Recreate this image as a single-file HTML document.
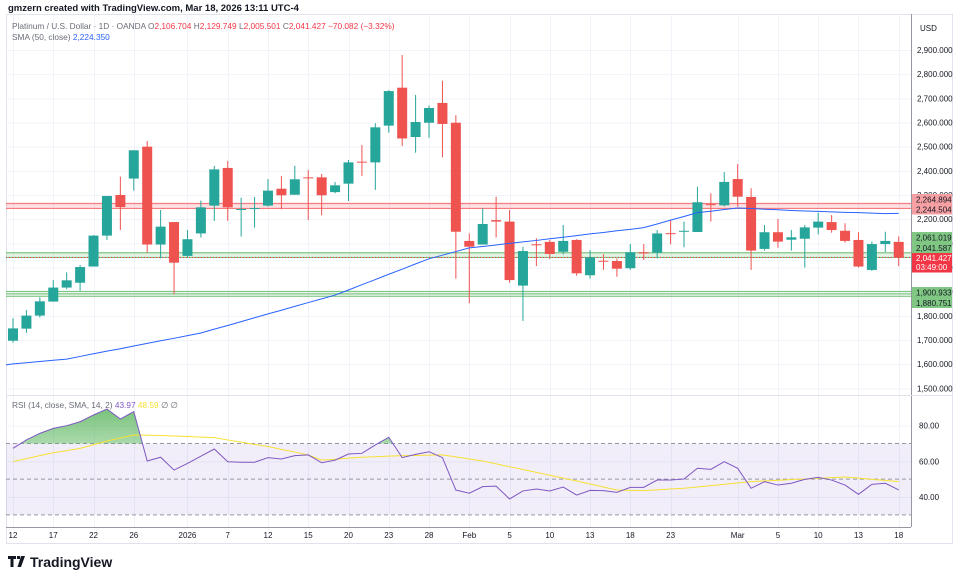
<!DOCTYPE html>
<html><head><meta charset="utf-8">
<style>
html,body{margin:0;padding:0;background:#fff;}
svg{display:block;font-family:"Liberation Sans",sans-serif;}
</style></head>
<body>
<svg id="chart" width="964" height="582" viewBox="0 0 964 582">
  <defs>
    <linearGradient id="obGrad" x1="0" y1="0" x2="0" y2="1">
      <stop offset="0" stop-color="#4caf50" stop-opacity="0.75"/>
      <stop offset="1" stop-color="#4caf50" stop-opacity="0.03"/>
    </linearGradient>
    <clipPath id="obClip"><rect x="6" y="395" width="905" height="48.5"/></clipPath>
  </defs>
  <text x="8" y="11" font-size="9.5" font-weight="bold" fill="#131722">gmzern created with TradingView.com, Mar 18, 2026 13:11 UTC-4</text>
  <rect x="6.5" y="14.5" width="946" height="529" fill="none" stroke="#e0e3eb"/>
  <g id="grid"></g>
  <rect x="6" y="443.5" width="905" height="71.3" fill="#7e57c2" fill-opacity="0.1"/>
  <g id="levels"></g>
  <g id="candles"></g>
  <g id="rsi"></g>
  <line x1="911.5" y1="14" x2="911.5" y2="527" stroke="#9598a1"/>
  <line x1="6" y1="395.5" x2="952" y2="395.5" stroke="#e0e3eb"/>
  <line x1="6" y1="527.5" x2="911" y2="527.5" stroke="#9598a1"/>
  <g id="axes"></g>
  <text x="920" y="31" font-size="8" fill="#131722">USD</text>
  <text x="12" y="29" font-size="8.3" fill="#6a6d78">Platinum / U.S. Dollar · 1D · OANDA  <tspan fill="#6a6d78">O</tspan><tspan fill="#f23645">2,106.704</tspan> <tspan fill="#6a6d78">H</tspan><tspan fill="#f23645">2,129.749</tspan> <tspan fill="#6a6d78">L</tspan><tspan fill="#f23645">2,005.501</tspan> <tspan fill="#6a6d78">C</tspan><tspan fill="#f23645">2,041.427</tspan> <tspan fill="#f23645">−70.082 (−3.32%)</tspan></text>
  <text x="12" y="40" font-size="8.3" fill="#6a6d78">SMA (50, close) <tspan fill="#2962ff">2,224.350</tspan></text>
  <text x="12" y="408" font-size="8.3" fill="#6a6d78">RSI (14, close, SMA, 14, 2) <tspan fill="#7e57c2">43.97</tspan> <tspan fill="#f7e034">48.59</tspan> ∅ ∅</text>
  <g>
    <path d="M8 556h8v3h-2.5v8h-3v-8H8z M17 556h3v3h-3z M21 556h4l-4 11h-3.5z" fill="#131722"/>
    <text x="30" y="567" font-size="14" font-weight="bold" fill="#131722">TradingView</text>
  </g>
</svg>
<script>
const opens  = [1697,1747,1801,1859,1917,1937,2004,2132,2300,2368,2500,2095,2188,2048,2141,2256,2412,2240,2244,2256,2326,2301,2373,2373,2312,2347,2438,2435,2587,2744,2540,2599,2681,2599,2110,2095,2196,2190,1925,2096,2106,2065,2114,1968,2028,2027,1997,2063,2061,2142,2148,2147,2262,2257,2366,2292,2077,2146,2115,2119,2165,2188,2152,2114,1990,2097,2106];
const highs  = [1790,1824,1877,1948,1980,2010,2134,2296,2376,2485,2523,2238,2188,2155,2277,2420,2441,2289,2292,2366,2379,2421,2404,2387,2354,2445,2507,2597,2734,2879,2714,2670,2773,2630,2141,2245,2293,2238,2086,2121,2114,2176,2117,2072,2055,2038,2097,2097,2155,2197,2190,2334,2307,2395,2428,2328,2176,2201,2155,2176,2227,2217,2183,2146,2107,2148,2129];
const lows   = [1689,1730,1793,1859,1910,1904,2004,2114,2155,2318,2061,2038,1889,2042,2124,2193,2193,2128,2165,2252,2241,2301,2197,2215,2307,2275,2379,2321,2558,2503,2475,2537,2456,1954,1852,2095,2124,1937,1779,2006,2035,2054,1966,1954,1990,1962,1990,2031,2038,2096,2084,2147,2190,2252,2252,1990,2070,2082,2070,2000,2137,2144,2103,2000,1986,2064,2005];
const closes = [1748,1801,1860,1917,1947,2002,2132,2296,2250,2485,2095,2169,2020,2117,2249,2406,2249,2242,2246,2318,2299,2365,2371,2299,2340,2435,2436,2580,2730,2534,2602,2660,2594,2148,2086,2180,2190,1948,2068,2093,2056,2110,1976,2042,2026,1995,2063,2058,2141,2140,2152,2270,2261,2354,2293,2070,2146,2107,2125,2166,2190,2155,2110,2004,2097,2110,2041];
const smaVals = [1601,1606,1611,1616,1621,1632,1643,1654,1664,1675,1686,1697,1707,1718,1729,1745,1760,1776,1792,1808,1823,1839,1855,1870,1886,1907,1929,1950,1972,1993,2015,2036,2051,2066,2081,2087,2093,2100,2106,2112,2119,2125,2132,2139,2145,2152,2158,2165,2180,2196,2211,2227,2233,2240,2246,2244,2241,2239,2236,2234,2232,2230,2228,2227,2225,2223,2224];
const rsiVals = [67.3,72.0,75.7,78.5,80.0,82.2,86.0,89.3,83.7,87.9,60.2,62.3,55.1,58.8,62.9,66.9,59.8,59.5,59.5,62.1,61.3,63.2,63.6,59.2,60.7,64.1,64.5,69.2,73.5,62.1,63.9,65.4,62.1,43.9,42.1,45.8,46.1,38.9,43.4,44.5,43.4,45.6,41.1,43.7,43.6,42.6,45.4,45.4,49.5,49.5,50.1,56.1,55.5,59.8,56.1,44.9,48.6,46.7,47.7,49.9,51.0,49.5,46.7,41.5,47.1,47.7,43.97];
const rsiSmaVals = [59.8,61.5,63.2,64.8,66.0,67.3,69.3,71.4,73.1,74.8,74.7,74.5,74.2,73.9,73.6,73.3,72.0,70.8,69.5,68.3,66.7,65.2,63.6,60.7,61.2,61.8,62.3,62.6,62.9,63.2,63.3,63.5,63.6,62.5,61.3,60.2,58.6,57.0,55.4,53.8,52.2,50.6,49.0,47.3,45.6,43.9,43.7,43.6,44.0,44.5,44.9,45.6,46.4,47.1,47.9,48.6,49.0,49.4,49.8,50.1,50.5,50.9,51.2,50.6,49.9,49.3,48.59];
const timeLabels = ["12","17","22","26","2026","7","12","15","20","23","28","Feb","5","10","13","18","23","Mar","5","10","13","18"];
const timeLabelIdx = [0,3,6,9,13,16,19,22,25,28,31,34,37,40,43,46,49,54,57,60,63,66];
const priceTicks = [2900,2800,2700,2600,2500,2400,2300,2200,2100,2000,1900,1800,1700,1600,1500];
const rsiTicks = [80,60,40];
const redLevels = [2264.894,2244.504];
const greenLevels = [2061.019,2041.587];
const greenLowLevels = [1900.933,1880.751];
const lastPrice = 2041.427;

const NS="http://www.w3.org/2000/svg";
function el(tag,attrs,parent){const e=document.createElementNS(NS,tag);for(const k in attrs)e.setAttribute(k,attrs[k]);parent.appendChild(e);return e;}
const xOf=i=>13+i*13.42;
const yP=p=>50+(2900-p)*0.24167;
const yR=v=>497-(v-40)*1.783;
const fmt=(v,d)=>v.toLocaleString('en-US',{minimumFractionDigits:d,maximumFractionDigits:d});

const grid=document.getElementById('grid');
priceTicks.forEach(p=>{const l=el('line',{x1:6,x2:911,y1:yP(p)+0.5,y2:yP(p)+0.5,stroke:'#f0f3fa'},grid);

});
rsiTicks.forEach(v=>{const l=el('line',{x1:6,x2:911,y1:yR(v)+0.5,y2:yR(v)+0.5,stroke:'#f0f3fa'},grid);

});
timeLabelIdx.forEach(i=>{const l=el('line',{x1:Math.round(xOf(i))+0.5,x2:Math.round(xOf(i))+0.5,y1:14,y2:527,stroke:'#f0f3fa'},grid);

});

const lv=document.getElementById('levels');
let b=el('rect',{x:6,y:yP(redLevels[0]),width:905,height:yP(redLevels[1])-yP(redLevels[0]),fill:'#f23645','fill-opacity':0.15},lv);


redLevels.forEach(p=>{const l=el('line',{x1:6,x2:911,y1:yP(p),y2:yP(p),stroke:'#f77c80','stroke-width':1.2},lv);

});
b=el('rect',{x:6,y:yP(greenLevels[0]),width:905,height:yP(greenLevels[1])-yP(greenLevels[0]),fill:'#4caf50','fill-opacity':0.15},lv);


greenLevels.forEach(p=>{const l=el('line',{x1:6,x2:911,y1:yP(p),y2:yP(p),stroke:'#81c784','stroke-width':1.2},lv);

});
b=el('rect',{x:6,y:yP(greenLowLevels[0]),width:905,height:yP(greenLowLevels[1])-yP(greenLowLevels[0]),fill:'#4caf50','fill-opacity':0.08},lv);


[greenLowLevels[0],(greenLowLevels[0]+greenLowLevels[1])/2,greenLowLevels[1]].forEach(p=>{const l=el('line',{x1:6,x2:911,y1:yP(p),y2:yP(p),stroke:'#81c784','stroke-width':1.2},lv);

});
let cl=el('line',{x1:6,x2:911,y1:yP(lastPrice),y2:yP(lastPrice),stroke:'#f23645','stroke-dasharray':'1 2'},lv);



const cg=document.getElementById('candles');
opens.forEach((o,i)=>{
  const c=closes[i],up=c>=o,col=up?'#26a69a':'#ef5350',x=xOf(i);
  const g=el('g',{},cg);
  
  
  el('line',{x1:x,x2:x,y1:yP(highs[i]),y2:yP(lows[i]),stroke:col,'stroke-width':1},g);
  const top=yP(Math.max(o,c)),h=Math.max(1,yP(Math.min(o,c))-top);
  el('rect',{x:x-5,y:top,width:10,height:h,fill:col},g);
});
const sma=el('polyline',{points:smaVals.map((v,i)=>xOf(i)+','+yP(v)).join(' '),fill:'none',stroke:'#2962ff','stroke-width':1},cg);


el('line',{x1:6,x2:xOf(0),y1:yP(smaVals[0])+1,y2:yP(smaVals[0]),stroke:'#2962ff'},cg);

const rg=document.getElementById('rsi');
[70,50,30].forEach(v=>{const l=el('line',{x1:6,x2:911,y1:yR(v),y2:yR(v),stroke:'#9598a1','stroke-dasharray':'4 3'},rg);

});
const pts=rsiVals.map((v,i)=>xOf(i)+','+yR(v));
const ob=el('polygon',{points:xOf(0)+','+yR(70)+' '+pts.join(' ')+' '+xOf(rsiVals.length-1)+','+yR(70),fill:'url(#obGrad)','clip-path':'url(#obClip)'},rg);


const rs=el('polyline',{points:rsiSmaVals.map((v,i)=>xOf(i)+','+yR(v)).join(' '),fill:'none',stroke:'#f7e034','stroke-width':1},rg);


const rl=el('polyline',{points:pts.join(' '),fill:'none',stroke:'#7e57c2','stroke-width':1},rg);



const ax=document.getElementById('axes');
priceTicks.forEach(p=>{const t=el('text',{x:917,y:yP(p)+3,'font-size':8,fill:'#131722'},ax);t.textContent=fmt(p,3);

});
rsiTicks.forEach(v=>{const t=el('text',{x:919,y:yR(v)+3,'font-size':8,fill:'#131722'},ax);t.textContent=fmt(v,2);

});
timeLabels.forEach((s,k)=>{const t=el('text',{x:xOf(timeLabelIdx[k]),y:538,'font-size':8,fill:'#131722','text-anchor':'middle'},ax);t.textContent=s;

});

function tag(col,text,yTop,h){
  const g=el('g',{},ax);
  
  
  el('rect',{x:912,y:yTop,width:40,height:h,fill:col},g);
  const t=el('text',{x:916,y:yTop+h/2+3,'font-size':8,fill:'#131722'},g);t.textContent=text;
  return g;
}
tag('#f7a0a3',fmt(redLevels[0],3),194,10.5);
tag('#f7a0a3',fmt(redLevels[1],3),204.5,10);
tag('#81c784',fmt(greenLevels[0],3),232,10.5);
tag('#81c784',fmt(greenLevels[1],3),242.5,10.5);
tag('#81c784',fmt(greenLowLevels[0],3),287,10.5);
tag('#81c784',fmt(greenLowLevels[1],3),297.5,10.5);
const lg=el('g',{},ax);


el('rect',{x:912,y:253,width:40,height:19.5,fill:'#f23645'},lg);
let t1=el('text',{x:916,y:261,'font-size':8,fill:'#fff'},lg);t1.textContent=fmt(lastPrice,3);
let t2=el('text',{x:916,y:270,'font-size':8,fill:'#fff'},lg);t2.textContent='03:49:00';
</script>
</body></html>
